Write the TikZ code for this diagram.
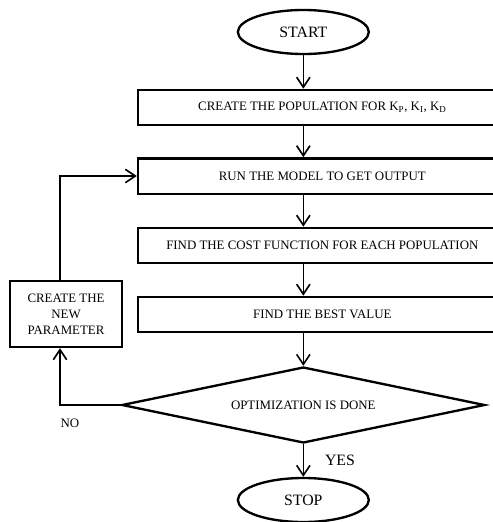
\documentclass[tikz,border=0pt]{standalone}
\usepackage{fontspec}
\setmainfont{Liberation Serif}
\usetikzlibrary{shapes.geometric}
\usetikzlibrary{positioning}
\usetikzlibrary{arrows.meta}

\begin{document}
\begin{tikzpicture}[
every node/.style={font=\fontsize{11}{13.6}\selectfont},
box/.style={draw, line width=2pt, minimum width=11.06cm, minimum height=1.06cm, inner sep=2pt},
term/.style={draw, ellipse, line width=2pt, minimum width=3.93cm, minimum height=1.32cm, font=\fontsize{13.5}{16}\selectfont},
test/.style={draw, diamond, line width=2pt, aspect=4.78, minimum width=10.89cm, minimum height=2.28cm, inner sep=0pt},
arr/.style={-{Straight Barb[length=3mm,width=4mm]}, line width=1.4pt}]

% frame of the picture, the boxes run past the right edge
\useasboundingbox (0,0) rectangle (14.79,-15.66);
\clip (0,0) rectangle (14.79,-15.66);

%\draw[step=1cm,gray!50, thin] (0,-16) grid (15,0);

\node (start) at (9.1,-0.96) [term] {START};
\node (pop) at (9.67,-3.225) [box] {CREATE THE POPULATION FOR K\textsubscript{P}, K\textsubscript{I}, K\textsubscript{D}};
\node (run) at (9.67,-5.28) [box] {RUN THE MODEL TO GET OUTPUT};
\node (cost) at (9.67,-7.365) [box] {FIND THE COST FUNCTION FOR EACH POPULATION};
\node (best) at (9.67,-9.435) [box] {FIND THE BEST VALUE};
\node (done) at (9.1,-12.15) [test] {OPTIMIZATION IS DONE};
\node (stop) at (9.1,-15.0) [term] {STOP};

\node (newpar) at (1.98,-9.42) [draw, line width=2pt, minimum width=3.36cm, minimum height=1.98cm, align=center] {CREATE THE\\NEW\\PARAMETER};

% main line down the middle
\coordinate (spine) at (9.1,0);
\foreach \a/\b in {start/pop, pop/run, run/cost, cost/best, best/done, done/stop}
{ \draw[arr] (spine |- \a.south) -- (spine |- \b.north); }

% the way back
\coordinate (loop) at (1.8,0);
\draw[arr] (loop |- newpar.north) |- (run.west);
\draw[arr] (done.west) -| (loop |- newpar.south);

\node (no) at (2.1,-12.69) {NO};
\node (yes) at (10.2,-13.8) [font=\fontsize{13.5}{16}\selectfont] {YES};

\end{tikzpicture}
\end{document}
